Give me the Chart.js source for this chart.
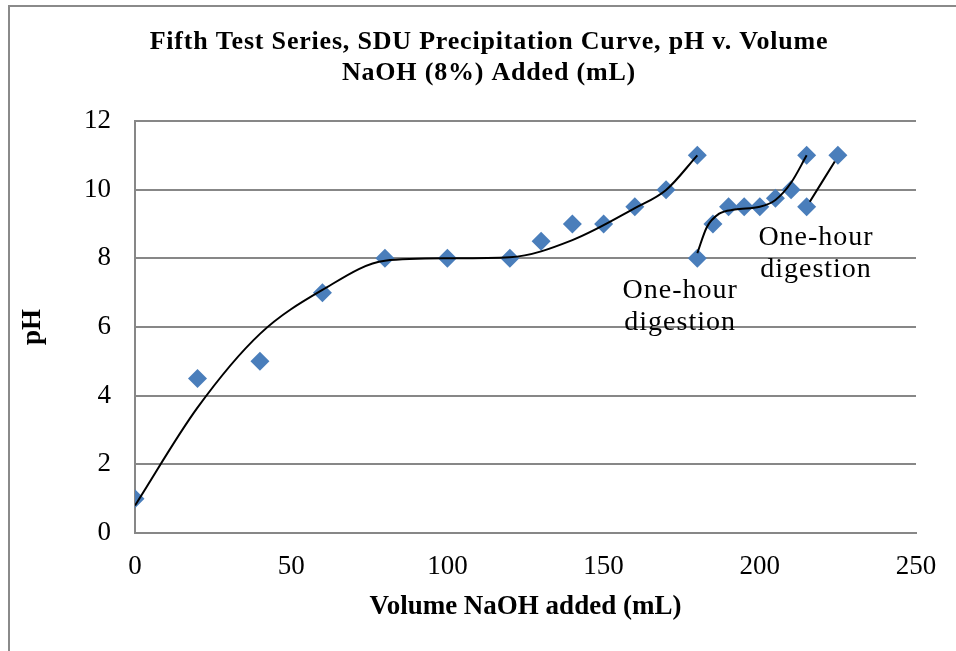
<!DOCTYPE html>
<html>
<head>
<meta charset="utf-8">
<script src="https://cdn.jsdelivr.net/npm/chart.js@4.4.1/dist/chart.umd.min.js"></script>
<style>
  html, body { margin: 0; padding: 0; background: #fff; }
  #wrap { position: relative; width: 956px; height: 651px; overflow: hidden; }
  #frame { position: absolute; left: 8px; top: 5px; width: 970px; height: 700px; border: 2px solid #8a8a8a; pointer-events: none; }
</style>
</head>
<body>
<div id="wrap">
  <canvas id="phChart" width="956" height="651"></canvas>
  <div id="frame"></div>
</div>
<script>
// measured points, first titration run
const volumeFirst = [0, 20, 40, 60, 80, 100, 120, 130, 140, 150, 160, 170, 180];
const phFirst = [1, 4.5, 5, 7, 8, 8, 8, 8.5, 9, 9, 9.5, 10, 11];
// after first one-hour digestion
const volumeSecond = [180, 185, 190, 195, 200, 205, 210, 215];
const phSecond = [8, 9, 9.5, 9.5, 9.5, 9.75, 10, 11];
// after second one-hour digestion
const volumeThird = [215, 225];
const phThird = [9.5, 11];

// black curves
const curveVolumeFirst = [0, 20, 40, 60, 80, 100, 120, 140, 160, 170, 180];
const curvePhFirst = [0.8, 3.65, 5.8, 7.08, 7.93, 8.0, 8.03, 8.53, 9.46, 9.99, 11.0];
const curveVolumeSecond = [180, 183, 187, 192, 200, 205, 210, 215];
const curvePhSecond = [8.15, 8.9, 9.3, 9.42, 9.5, 9.7, 10.2, 11.0];
const curveVolumeThird = [216, 224];
const curvePhThird = [9.65, 10.82];

const xTicks = [0, 50, 100, 150, 200, 250];
const yTicks = [0, 2, 4, 6, 8, 10, 12];

const titleLines = ['Fifth Test Series, SDU Precipitation Curve, pH v. Volume', 'NaOH (8%) Added (mL)'];
const noteLines = ['One-hour', 'digestion'];
const notePlaces = [{ x: 174.5, y: 6.6 }, { x: 218, y: 8.13 }];

const toPoints = (xs, ys) => xs.map((x, i) => ({ x: x, y: ys[i] }));

function curveSet(xs, ys) {
  return {
    type: 'line', data: toPoints(xs, ys), borderColor: '#000', borderWidth: 2,
    pointRadius: 0, fill: false, cubicInterpolationMode: 'monotone', order: 0
  };
}
function markerSet(xs, ys) {
  return {
    type: 'scatter', data: toPoints(xs, ys), pointStyle: 'rectRot', pointRadius: 9.5,
    backgroundColor: '#4a7ebb', borderColor: '#4a7ebb', borderWidth: 0, order: 1
  };
}

const textPlugin = {
  id: 'texts',
  afterDraw(chart) {
    const { ctx, scales } = chart;
    ctx.save();
    ctx.fillStyle = '#000';
    ctx.textAlign = 'center';
    // chart title
    ctx.font = 'bold 26px "Liberation Serif"';
    ctx.letterSpacing = '0.8px';
    ctx.textBaseline = 'alphabetic';
    ctx.fillText(titleLines[0], 489, 49);
    ctx.fillText(titleLines[1], 489, 80);
    // digestion notes
    ctx.font = '28px "Liberation Serif"';
    ctx.letterSpacing = '1px';
    ctx.textBaseline = 'middle';
    notePlaces.forEach((p) => {
      const px = scales.x.getPixelForValue(p.x);
      const py = scales.y.getPixelForValue(p.y);
      ctx.fillText(noteLines[0], px, py - 16);
      ctx.fillText(noteLines[1], px, py + 16);
    });
    ctx.restore();
  }
};

new Chart(document.getElementById('phChart'), {
  type: 'scatter',
  data: {
    datasets: [
      curveSet(curveVolumeFirst, curvePhFirst),
      curveSet(curveVolumeSecond, curvePhSecond),
      curveSet(curveVolumeThird, curvePhThird),
      markerSet(volumeFirst, phFirst),
      markerSet(volumeSecond, phSecond),
      markerSet(volumeThird, phThird)
    ]
  },
  options: {
    responsive: false,
    animation: false,
    layout: { padding: { top: 121, right: 40, bottom: 0, left: 0 } },
    plugins: {
      legend: { display: false },
      tooltip: { enabled: false },
      title: { display: false }
    },
    scales: {
      x: {
        type: 'linear',
        min: 0, max: 250,
        afterBuildTicks: (s) => { s.ticks = xTicks.map((v) => ({ value: v })); },
        afterFit: (s) => { s.height = 118; },
        grid: { display: false, drawTicks: false },
        border: { display: true, color: '#878787', width: 2 },
        ticks: { color: '#000', padding: 18, font: { family: '"Liberation Serif"', size: 27 } },
        title: {
          display: true, text: 'Volume NaOH added (mL)', color: '#000',
          font: { family: '"Liberation Serif"', size: 27, weight: 'bold' },
          padding: { top: 0, bottom: 28 }
        }
      },
      y: {
        type: 'linear',
        min: 0, max: 12,
        afterBuildTicks: (s) => { s.ticks = yTicks.map((v) => ({ value: v })); },
        afterFit: (s) => { s.width = 135; },
        grid: { color: '#878787', lineWidth: 2, drawTicks: false },
        border: { display: true, color: '#878787', width: 2 },
        ticks: { color: '#000', padding: 24, font: { family: '"Liberation Serif"', size: 27 } },
        title: {
          display: true, text: 'pH', color: '#000',
          font: { family: '"Liberation Serif"', size: 27, weight: 'bold' },
          padding: { top: 17, bottom: 0 }
        }
      }
    }
  },
  plugins: [textPlugin]
});
</script>
</body>
</html>
